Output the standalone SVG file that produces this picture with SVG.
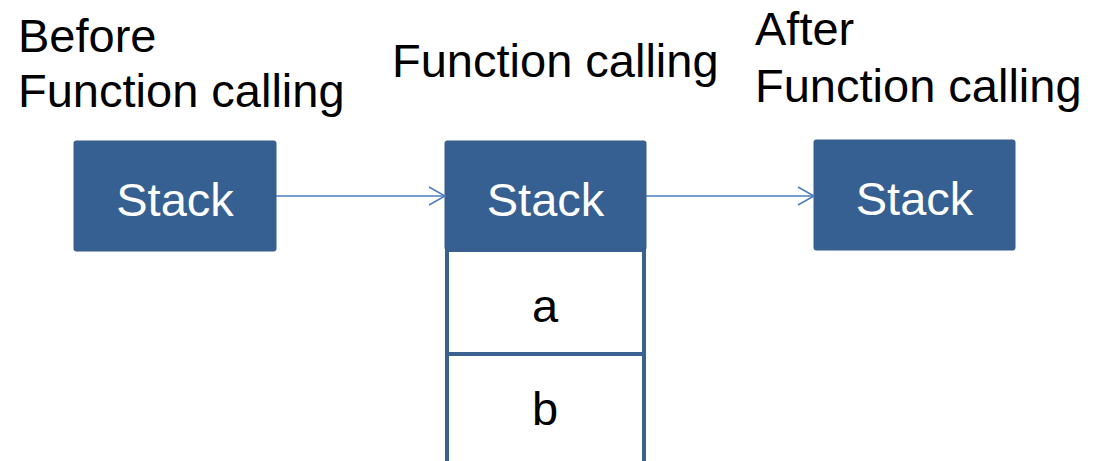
<svg xmlns="http://www.w3.org/2000/svg" width="1103" height="461" viewBox="0 0 1103 461">
<defs>
<style>
.t{font-family:"Liberation Sans",Arial,sans-serif;font-size:47px;fill:#000}
.w{font-family:"Liberation Sans",Arial,sans-serif;font-size:47px;fill:#fff;text-anchor:middle}
.box{fill:#376092;stroke:#385d8a;stroke-width:1}
.cell{fill:#fff;stroke:#3a6190;stroke-width:4}
.conn{stroke:#4a7ebb;stroke-width:1.5;fill:none}
</style>
<marker id="arr" markerWidth="20" markerHeight="20" refX="17" refY="10" orient="auto" markerUnits="userSpaceOnUse">
<path d="M1,1 L17,10 L1,19" fill="none" stroke="#4a7ebb" stroke-width="1.5"/>
</marker>
</defs>
<rect width="1103" height="461" fill="#fff"/>
<g id="labels">
<text class="t" x="18" y="52">Before</text>
<text class="t" x="18" y="107">Function calling</text>
<text class="t" x="392" y="77">Function calling</text>
<text class="t" x="755" y="45">After</text>
<text class="t" x="755" y="102">Function calling</text>
</g>
<g id="node-before">
<rect class="box" x="74" y="141" width="202" height="110" rx="2"/>
<text class="w" x="175" y="216">Stack</text>
</g>
<g id="node-during">
<rect class="cell" x="447" y="250" width="197" height="104"/>
<rect class="cell" x="447" y="354" width="197" height="110"/>
<rect class="box" x="445" y="141" width="201" height="109" rx="2"/>
<text class="w" x="545.5" y="216">Stack</text>
<text class="t" x="545" y="322" text-anchor="middle">a</text>
<text class="t" x="545" y="425" text-anchor="middle">b</text>
</g>
<g id="node-after">
<rect class="box" x="814" y="140" width="201" height="110" rx="2"/>
<text class="w" x="914.5" y="215">Stack</text>
</g>
<g id="connectors">
<line class="conn" x1="276" y1="196" x2="445" y2="196" marker-end="url(#arr)"/>
<line class="conn" x1="646" y1="196" x2="814" y2="196" marker-end="url(#arr)"/>
</g>
</svg>
